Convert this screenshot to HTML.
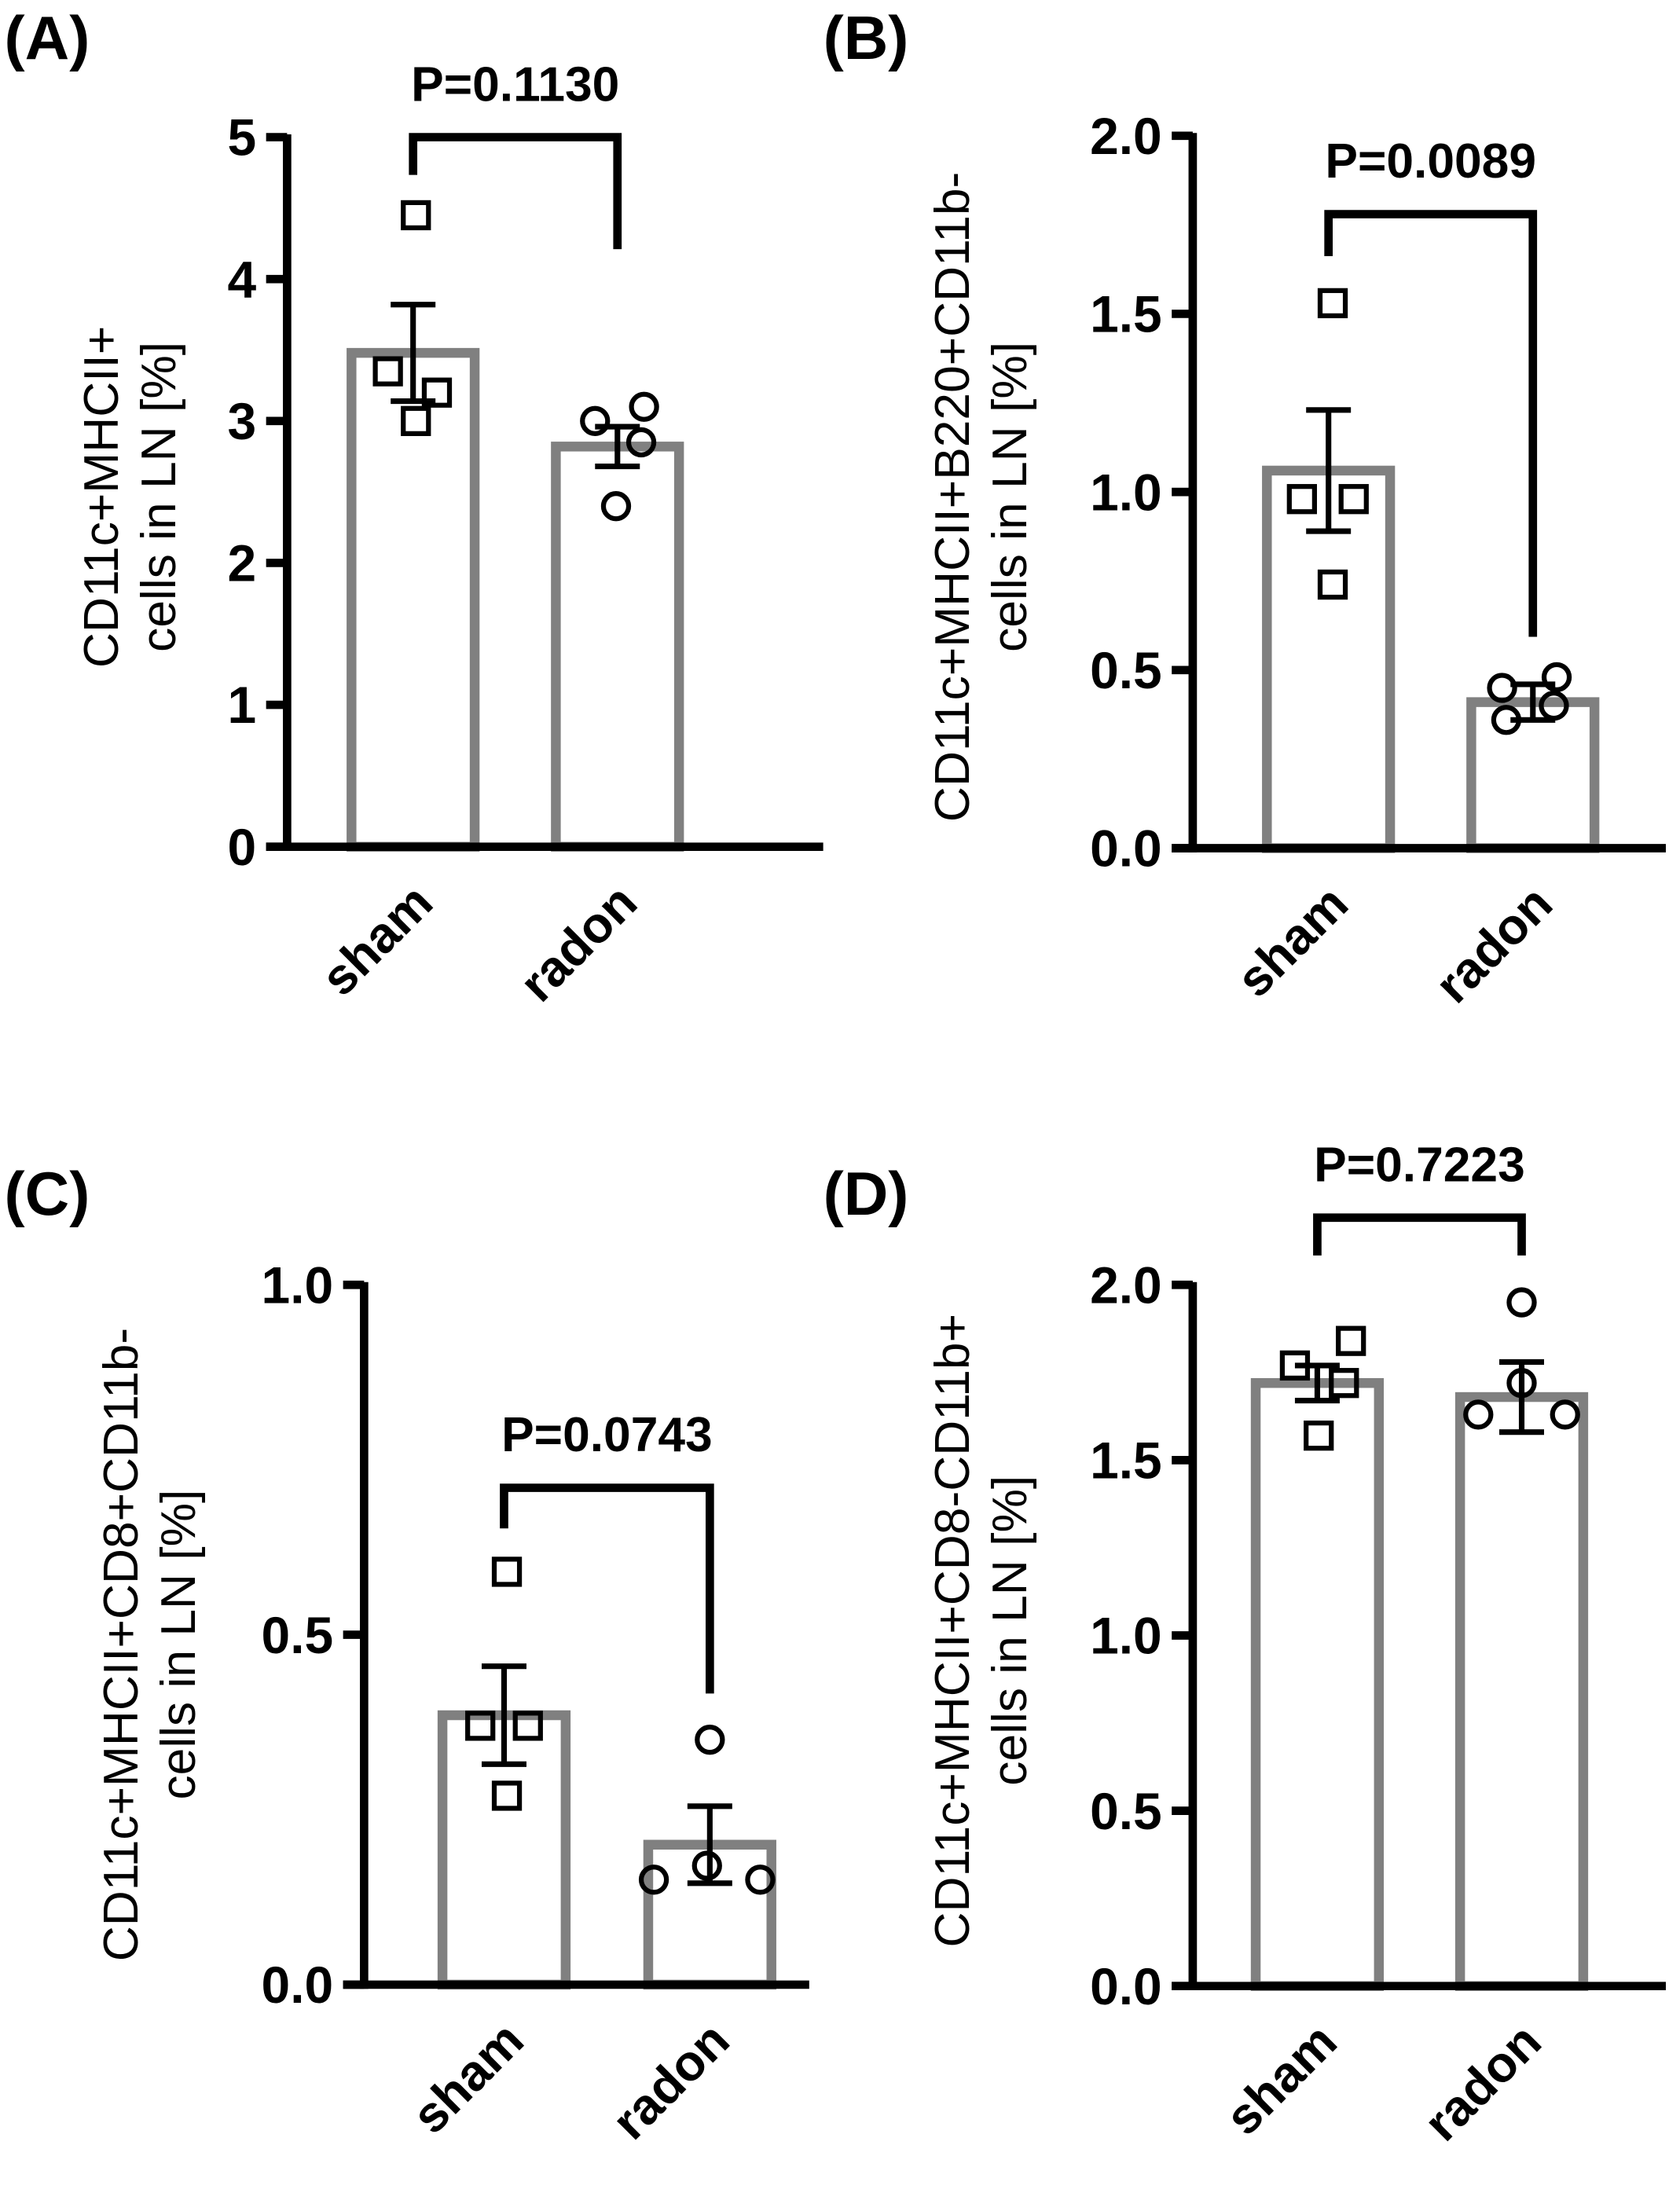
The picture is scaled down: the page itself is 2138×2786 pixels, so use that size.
<!DOCTYPE html>
<html><head><meta charset="utf-8"><style>
html,body{margin:0;padding:0;background:#fff}
svg{display:block}
text{font-family:"Liberation Sans",Arial,sans-serif}
</style></head><body>
<svg id="fig" width="2138" height="2786" viewBox="0 0 1200 1564" xmlns="http://www.w3.org/2000/svg"></svg>
<script>
// Panel data
const categories = ["sham", "radon"];
const panelLabels = ["(A)", "(B)", "(C)", "(D)"];
const yTitlesA = ["CD11c+MHCII+", "cells in LN [%]"];
const yTitlesB = ["CD11c+MHCII+B220+CD11b-", "cells in LN [%]"];
const yTitlesC = ["CD11c+MHCII+CD8+CD11b-", "cells in LN [%]"];
const yTitlesD = ["CD11c+MHCII+CD8-CD11b+", "cells in LN [%]"];
const ticksA = [0, 1, 2, 3, 4, 5];
const ticksB = [0, 0.5, 1.0, 1.5, 2.0];
const ticksC = [0, 0.5, 1.0];
const ticksD = [0, 0.5, 1.0, 1.5, 2.0];
const meansA = [3.48, 2.82];
const semA = [0.34, 0.14];
const pointsShamA = [4.45, 3.35, 3.2, 3.0];
const pointsRadonA = [3.0, 3.1, 2.85, 2.4];
const pA = "P=0.1130";
const meansB = [1.06, 0.41];
const semB = [0.17, 0.05];
const pointsShamB = [1.53, 0.98, 0.98, 0.74];
const pointsRadonB = [0.45, 0.48, 0.40, 0.36];
const pB = "P=0.0089";
const meansC = [0.385, 0.2];
const semC = [0.07, 0.055];
const pointsShamC = [0.59, 0.37, 0.37, 0.27];
const pointsRadonC = [0.35, 0.15, 0.17, 0.15];
const pC = "P=0.0743";
const meansD = [1.72, 1.68];
const semD = [0.05, 0.1];
const pointsShamD = [1.77, 1.84, 1.72, 1.57];
const pointsRadonD = [1.95, 1.72, 1.63, 1.63];
const pD = "P=0.7223";

const svg = document.getElementById('fig');
const NS = "http://www.w3.org/2000/svg";
function mk(tag, attrs, parent){
  const e = document.createElementNS(NS, tag);
  for (const k in attrs) e.setAttribute(k, attrs[k]);
  (parent||svg).appendChild(e);
  return e;
}

function panel(cfg){
  const g = mk('g', {});
  
  
  const y = v => cfg.y0 - (v - cfg.vmin) / (cfg.vmax - cfg.vmin) * (cfg.y0 - cfg.y1);
  const pl = mk('text', {x: cfg.lx, y: cfg.ly, 'font-size': 44, 'font-weight': 'bold'}, g);
  pl.textContent = cfg.label;
  
  
  cfg.titles.forEach((t, i) => {
    const tx = cfg.tx + i * 41;
    const el = mk('text', {x: tx, y: cfg.ty, 'font-size': 35, 'text-anchor': 'middle', transform: `rotate(-90 ${tx} ${cfg.ty})`}, g);
    el.textContent = t;
    
    
  });
  cfg.means.forEach((m, i) => {
    const cx = cfg.cxs[i];
    const r = mk('rect', {x: cx - 44, y: y(m), width: 88, height: cfg.y0 - y(m), fill: 'none', stroke: '#808080', 'stroke-width': 7}, g);
    
    
  });
  cfg.means.forEach((m, i) => {
    const cx = cfg.cxs[i], s = cfg.sem[i];
    const p = mk('path', {d: `M${cx} ${y(m-s)}V${y(m+s)}M${cx-16} ${y(m+s)}H${cx+16}M${cx-16} ${y(m-s)}H${cx+16}`, stroke: '#000', 'stroke-width': 4, fill: 'none'}, g);
    
    
  });
  cfg.sham.forEach((v, j) => {
    const dx = cfg.dxS[j];
    const r = mk('rect', {x: cfg.cxs[0] + dx - 9, y: y(v) - 9, width: 18, height: 18, fill: 'none', stroke: '#000', 'stroke-width': 3.5}, g);
    
    
  });
  cfg.radon.forEach((v, j) => {
    const dx = cfg.dxR[j];
    const c = mk('circle', {cx: cfg.cxs[1] + dx, cy: y(v), r: 9, fill: 'none', stroke: '#000', 'stroke-width': 3.5}, g);
    
    
  });
  const ya = mk('line', {x1: cfg.ax, y1: cfg.y1 - 2, x2: cfg.ax, y2: cfg.y0 + 3, stroke: '#000', 'stroke-width': 6}, g);
  
  
  const xa = mk('line', {x1: cfg.ax - 15, y1: cfg.y0, x2: cfg.xEnd, y2: cfg.y0, stroke: '#000', 'stroke-width': 6}, g);
  
  
  cfg.ticks.forEach(t => {
    const tl = mk('line', {x1: cfg.ax - 15, y1: y(t), x2: cfg.ax, y2: y(t), stroke: '#000', 'stroke-width': 6}, g);
    
    
    const tt = mk('text', {x: cfg.ax - 22, y: y(t) + 13, 'font-size': 37, 'font-weight': 'bold', 'text-anchor': 'end'}, g);
    tt.textContent = cfg.dec ? t.toFixed(1) : String(t);
    
    
  });
  categories.forEach((c, i) => {
    const x = cfg.cxs[i] + 16, yy = cfg.y0 + 42;
    const t = mk('text', {x: x, y: yy, 'font-size': 36, 'font-weight': 'bold', 'text-anchor': 'end', transform: `rotate(-45 ${x} ${yy})`}, g);
    t.textContent = c;
    
    
  });
  const b = cfg.br;
  const bp = mk('path', {d: `M${cfg.cxs[0]} ${b[1]}V${b[0]}H${cfg.cxs[1]}V${b[2]}`, stroke: '#000', 'stroke-width': 6, fill: 'none'}, g);
  
  
  const pt = mk('text', {x: (cfg.cxs[0] + cfg.cxs[1]) / 2, y: b[0] - 26, 'font-size': 35, 'font-weight': 'bold', 'text-anchor': 'middle'}, g);
  pt.textContent = cfg.p;
  
  
}

panel({id:'a', label:panelLabels[0], lx:3, ly:42, titles:yTitlesA, tx:84, ty:355, ax:205, y0:605, y1:98, vmin:0, vmax:5, xEnd:588,
  cxs:[295,441], means:meansA, sem:semA, sham:pointsShamA, radon:pointsRadonA, dxS:[2,-18,17,2], dxR:[-16,19,17,-1], ticks:ticksA, dec:false, br:[98,125,178], p:pA});
panel({id:'b', label:panelLabels[1], lx:588, ly:42, titles:yTitlesB, tx:692, ty:355, ax:852, y0:606, y1:97, vmin:0, vmax:2, xEnd:1190,
  cxs:[949,1095], means:meansB, sem:semB, sham:pointsShamB, radon:pointsRadonB, dxS:[3,-19,18,3], dxR:[-22,17,15,-19], ticks:ticksB, dec:true, br:[153,183,455], p:pB});
panel({id:'c', label:panelLabels[2], lx:3, ly:868, titles:yTitlesC, tx:98, ty:1175, ax:260, y0:1418, y1:918, vmin:0, vmax:1, xEnd:578,
  cxs:[360,507], means:meansC, sem:semC, sham:pointsShamC, radon:pointsRadonC, dxS:[2,-17,17,2], dxR:[0,-40,-2,36], ticks:ticksC, dec:true, br:[1063,1092,1210], p:pC});
panel({id:'d', label:panelLabels[3], lx:588, ly:868, titles:yTitlesD, tx:692, ty:1165, ax:852, y0:1419, y1:918, vmin:0, vmax:2, xEnd:1190,
  cxs:[941,1087], means:meansD, sem:semD, sham:pointsShamD, radon:pointsRadonD, dxS:[-16,24,19,1], dxR:[0,0,-31,31], ticks:ticksD, dec:true, br:[870,897,897], p:pD});
</script>
</body></html>
